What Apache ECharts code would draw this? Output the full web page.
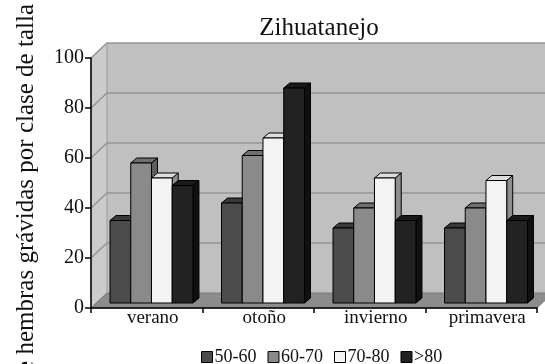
<!DOCTYPE html>
<html>
<head>
<meta charset="utf-8">
<script src="https://cdn.jsdelivr.net/npm/echarts@6/dist/echarts.min.js"></script>
<style>
  html, body { margin: 0; padding: 0; background: #fff; }
  #chart { width: 545px; height: 364px; }
</style>
</head>
<body>
<div id="chart"></div>
<script>
// Seasons and size classes
const seasons = ['verano', 'otoño', 'invierno', 'primavera'];
const sizeClasses = ['50-60', '60-70', '70-80', '>80'];

// Percentage of gravid females per size class, by season
const class5060 = [33, 40, 30, 30];
const class6070 = [56, 59, 38, 38];
const class7080 = [50, 66, 50, 49];
const class80up = [47, 86, 33, 33];

const yTicks = [0, 20, 40, 60, 80, 100];

const FONT = '"Liberation Serif", "Times New Roman", serif';

// Pseudo-3D projection offsets (screen px)
const FLOOR_DEPTH = [16, -15]; // front plane -> back wall
const BAR_SHIFT = [5, -5];     // front plane -> bar front faces
const BAR_DEPTH = [6, -5];     // bar front face -> bar back face
const GAP_RATIO = 0.1256;      // empty space on each side of a group
const BAR_RATIO = 0.186;       // width of one bar relative to the band

// Face shades per class: front, top, side
const shades = [
  ['#4b4b4b', '#3a3a3a', '#2e2e2e'],
  ['#8a8a8a', '#6f6f6f', '#5e5e5e'],
  ['#f3f3f3', '#dedede', '#8e8e8e'],
  ['#222222', '#1a1a1a', '#101010']
];

const seriesValues = [class5060, class6070, class7080, class80up];

function wallRender(params, api) {
  const cs = params.coordSys;
  const x0 = cs.x, x1 = cs.x + cs.width;
  const yb = api.coord([0, 0])[1];
  const yt = api.coord([0, 100])[1];
  const dx = FLOOR_DEPTH[0], dy = FLOOR_DEPTH[1];
  const children = [];
  // back wall
  children.push({
    type: 'polygon',
    shape: { points: [[x0 + dx, yt + dy], [x1 + dx, yt + dy], [x1 + dx, yb + dy], [x0 + dx, yb + dy]] },
    style: { fill: '#c0c0c0', stroke: null }
  });
  // left side wall
  children.push({
    type: 'polygon',
    shape: { points: [[x0, yb], [x0, yt], [x0 + dx, yt + dy], [x0 + dx, yb + dy]] },
    style: { fill: '#cbcbcb', stroke: '#9a9a9a', lineWidth: 1 }
  });
  // gridlines on the side wall and back wall
  yTicks.forEach(function (t) {
    if (t === 0) return;
    const y = api.coord([0, t])[1];
    children.push({
      type: 'polyline',
      shape: { points: [[x0, y], [x0 + dx, y + dy], [x1 + dx, y + dy]] },
      style: { stroke: '#959595', lineWidth: 1.5, fill: null }
    });
  });
  // floor
  children.push({
    type: 'polygon',
    shape: { points: [[x0, yb], [x1, yb], [x1 + dx, yb + dy], [x0 + dx, yb + dy]] },
    style: { fill: '#8c8c8c', stroke: '#7a7a7a', lineWidth: 1 }
  });
  return { type: 'group', children: children };
}

function makeBarRender(k) {
  return function (params, api) {
    const ci = api.value(0);
    const v = api.value(1);
    const base = api.coord([ci, 0]);
    const top = api.coord([ci, v]);
    const bw = api.size([1, 0])[0];
    const w = bw * BAR_RATIO;
    const L = base[0] - bw / 2 + BAR_SHIFT[0] + bw * GAP_RATIO + k * w;
    const R = L + w;
    const yB = base[1] + BAR_SHIFT[1];
    const yT = top[1] + BAR_SHIFT[1];
    const ddx = BAR_DEPTH[0], ddy = BAR_DEPTH[1];
    const sh = shades[k];
    const line = { stroke: '#000', lineWidth: 1, lineJoin: 'round' };
    return {
      type: 'group',
      children: [
        {
          type: 'polygon',
          shape: { points: [[R, yB], [R, yT], [R + ddx, yT + ddy], [R + ddx, yB + ddy]] },
          style: Object.assign({ fill: sh[2] }, line)
        },
        {
          type: 'polygon',
          shape: { points: [[L, yT], [R, yT], [R + ddx, yT + ddy], [L + ddx, yT + ddy]] },
          style: Object.assign({ fill: sh[1] }, line)
        },
        {
          type: 'rect',
          shape: { x: L, y: yT, width: w, height: yB - yT },
          style: Object.assign({ fill: sh[0] }, line)
        }
      ]
    };
  };
}

const series = [{
  type: 'custom',
  name: 'walls',
  z: 1,
  silent: true,
  renderItem: wallRender,
  data: [[0, 0]]
}];

sizeClasses.forEach(function (name, k) {
  series.push({
    type: 'custom',
    name: name,
    z: 2,
    itemStyle: { color: shades[k][0], borderColor: '#000', borderWidth: 1 },
    renderItem: makeBarRender(k),
    encode: { x: 0, y: 1 },
    data: seriesValues[k].map(function (v, i) { return [i, v]; })
  });
});

const chart = echarts.init(document.getElementById('chart'), null, { renderer: 'canvas' });
chart.setOption({
  animation: false,
  backgroundColor: '#ffffff',
  title: {
    text: 'Zihuatanejo',
    left: 314,
    top: 11,
    textAlign: 'center',
    textStyle: { fontFamily: FONT, fontSize: 25, fontWeight: 'normal', color: '#111' }
  },
  grid: { left: 91, right: 8, top: 58, bottom: 56 },
  xAxis: {
    type: 'category',
    data: seasons,
    z: 5,
    boundaryGap: true,
    axisLine: { lineStyle: { color: '#000', width: 1.5 } },
    axisTick: { show: true, length: 5, lineStyle: { color: '#000', width: 1.5 } },
    axisLabel: { fontFamily: FONT, fontSize: 19, color: '#111', margin: 1, padding: [0, 0, 0, 12] },
    splitLine: { show: false }
  },
  yAxis: {
    type: 'value',
    min: 0,
    max: 100,
    interval: 20,
    z: 5,
    axisLine: { show: true, lineStyle: { color: '#000', width: 1.5 } },
    axisTick: { show: true, length: 6, lineStyle: { color: '#000', width: 1.5 } },
    axisLabel: { fontFamily: FONT, fontSize: 20, color: '#111', margin: 7 },
    splitLine: { show: false }
  },
  legend: {
    data: sizeClasses,
    left: 196,
    top: 343,
    icon: 'rect',
    itemWidth: 11,
    itemHeight: 11,
    itemGap: 11,
    itemStyle: { borderColor: '#000', borderWidth: 1 },
    textStyle: { fontFamily: FONT, fontSize: 18, color: '#111', padding: [0, 0, 0, -3] }
  },
  graphic: [{
    type: 'text',
    x: 26,
    y: 4,
    rotation: Math.PI / 2,
    style: {
      text: '% de hembras grávidas por clase de talla',
      font: '25px ' + FONT,
      fill: '#111',
      textAlign: 'right',
      textVerticalAlign: 'middle'
    }
  }],
  series: series
});
</script>
</body>
</html>
